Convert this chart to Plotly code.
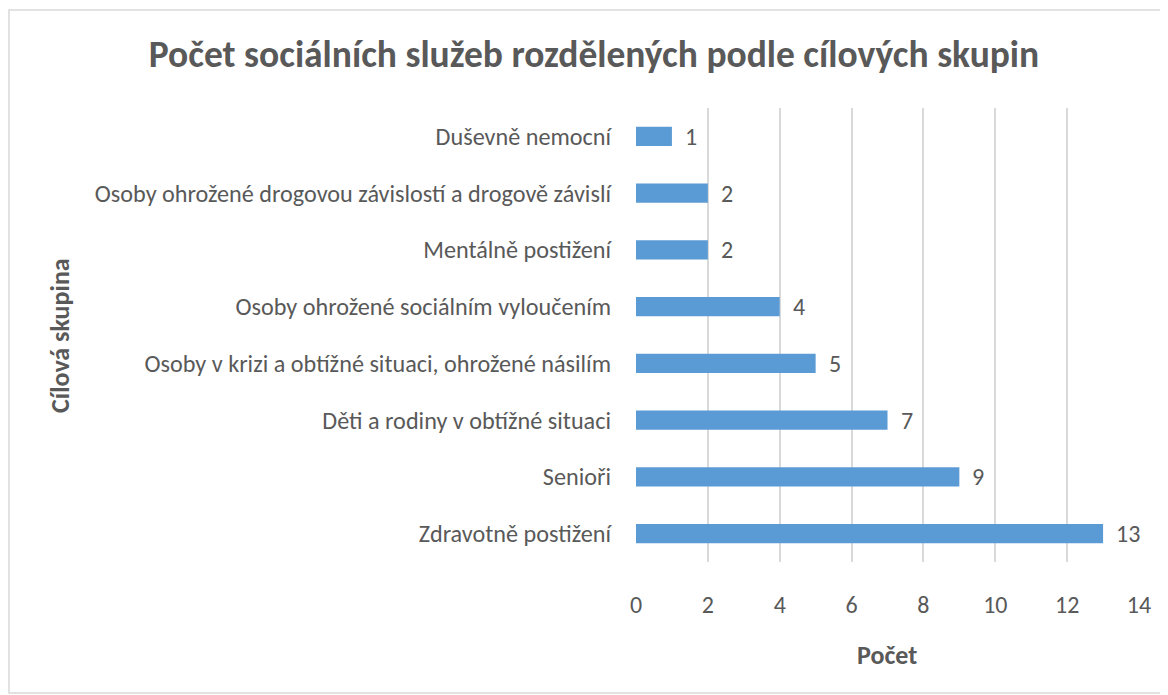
import plotly.graph_objects as go

# categories listed bottom to top, as plotted
skupiny = [
    "Zdravotně postižení",
    "Senioři",
    "Děti a rodiny v obtížné situaci",
    "Osoby v krizi a obtížné situaci, ohrožené násilím",
    "Osoby ohrožené sociálním vyloučením",
    "Mentálně postižení",
    "Osoby ohrožené drogovou závislostí a drogově závislí",
    "Duševně nemocní",
]
pocet = [13, 9, 7, 5, 4, 2, 2, 1]
x_ticks = [0, 2, 4, 6, 8, 10, 12, 14]

font_family = "Carlito, Calibri, Lato, sans-serif"
grey = "#595959"

# the page puts the figure 8px in from the top-left corner
W, H = 1160, 687
L, R, T, B = 628, 29, 100, 133
pw, ph = W - L - R, H - T - B

fig = go.Figure()
fig.add_trace(go.Bar(
    x=pocet, y=skupiny, orientation="h",
    marker=dict(color="#5b9bd5", line=dict(width=0)),
    hoverinfo="x+y",
))

# data labels to the right of each bar
for s, v in zip(skupiny, pocet):
    fig.add_annotation(x=v, y=s, text=str(v), showarrow=False,
                       xanchor="left", xshift=11,
                       font=dict(size=24, color=grey, family=font_family))

fig.update_layout(
    width=W, height=H,
    paper_bgcolor="white", plot_bgcolor="white",
    margin=dict(l=L, r=R, t=T, b=B, autoexpand=False),
    bargap=0.66,
    showlegend=False,
    font=dict(family=font_family, color=grey, size=24),
    title=dict(text="<b>Počet sociálních služeb rozdělených podle cílových skupin</b>",
               x=586 / W, xref="container", xanchor="center",
               y=1 - 46 / H, yref="container", yanchor="middle",
               font=dict(size=37.5, color=grey)),
    xaxis=dict(range=[0, 14], tickvals=x_ticks, showgrid=True, gridcolor="#d9d9d9",
               gridwidth=1.5, zeroline=False, showline=False, ticks="",
               ticklabelstandoff=26, tickfont=dict(size=24, color=grey)),
    yaxis=dict(showgrid=False, zeroline=False, showline=False, ticks="",
               ticklabelstandoff=24, tickfont=dict(size=24.2, color=grey),
               categoryorder="array", categoryarray=skupiny),
)

fig.add_annotation(text="<b>Cílová skupina</b>", textangle=-90, showarrow=False,
                   xref="paper", yref="paper", x=(52 - L) / pw, y=(T + ph - 328) / ph,
                   xanchor="center", yanchor="middle",
                   font=dict(size=26, color=grey))
fig.add_annotation(text="<b>Počet</b>", showarrow=False,
                   xref="paper", yref="paper", x=(879 - L) / pw, y=(T + ph - 647) / ph,
                   xanchor="center", yanchor="middle",
                   font=dict(size=26, color=grey))

# chart border
fig.add_shape(type="rect", xref="paper", yref="paper",
              x0=(1 - L) / pw, x1=(1158 - L) / pw,
              y0=(T + ph - 685) / ph, y1=(T + ph - 2) / ph,
              line=dict(color="#d9d9d9", width=1.5), fillcolor="rgba(0,0,0,0)")

fig.write_html("out.html")
